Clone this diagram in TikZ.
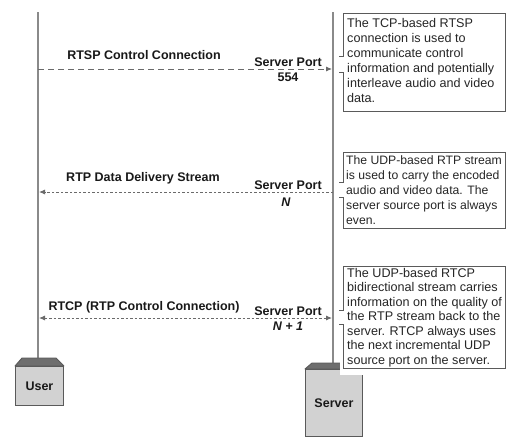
\documentclass[tikz,border=0pt]{standalone}
\usepackage{fontspec}
\setmainfont{Liberation Sans}
\usetikzlibrary{arrows.meta}
\definecolor{life}{HTML}{8A8A8A}
\definecolor{msgc}{HTML}{6A6A6A}
\definecolor{face}{HTML}{D2D2D2}
\definecolor{bevelc}{HTML}{6E6E6E}
\definecolor{edge}{HTML}{5A5A5A}
\tikzset{
  lbl/.style={font=\fontsize{12.5}{14}\selectfont\bfseries, inner sep=0pt, text=black!90},
  note/.style={font=\fontsize{12.6}{15}\selectfont, align=left, anchor=north west, inner sep=0pt, text=black!85},
  lifeline/.style={draw=life, line width=1.6pt},
  msg/.style={draw=msgc, line width=0.9pt},
  dashA/.style={dash pattern=on 6pt off 4pt},
  dotA/.style={dash pattern=on 2.5pt off 2pt},
  tipR/.style={-{Latex[length=6pt,width=5pt]}, shorten >=1pt},
  tipB/.style={{Latex[length=6pt,width=5pt]}-{Latex[length=6pt,width=5pt]}, shorten >=1pt, shorten <=1pt},
  boxface/.style={draw=edge, fill=face, line width=0.9pt, inner sep=0pt, anchor=north west,
                  font=\fontsize{12.5}{14}\selectfont\bfseries, text=black!90},
  bevel/.style={draw=edge, fill=bevelc, line width=0.9pt, line join=round},
  callout/.style={draw=edge, line width=0.9pt}
}
\begin{document}
\begin{tikzpicture}[x=1pt,y=-1pt]
\useasboundingbox (0,0) rectangle (506,437);
\clip (0,0) rectangle (506,437);
\fill[white] (0,0) rectangle (506,437);

% lifelines
\coordinate (utop) at (38,12);
\coordinate (stop) at (333,12);
\node[boxface, minimum width=48pt, minimum height=39pt] (user) at (15,366) {User};
\node[boxface, minimum width=57pt, minimum height=67pt] (server) at (305,369) {Server};
\coordinate (ubev) at (38,358);
\coordinate (sbev) at (333,363);
\draw[lifeline] (utop) -- (ubev);
\draw[lifeline] (stop) -- (sbev);

% user box bevel
\draw[bevel] (user.north west) -- ++(7,-8) -- ++(34,0) -- (user.north east) -- cycle;
\node[boxface, minimum width=48pt, minimum height=39pt] at (15,366) {User};
% server box bevel
\draw[bevel] (server.north west) -- ++(7,-6) -- ++(43,0) -- (server.north east) -- cycle;
\node[boxface, minimum width=57pt, minimum height=67pt] at (305,369) {Server};

% messages
\coordinate (u1) at (38,69);  \coordinate (s1) at (333,69);
\coordinate (u2) at (38,192); \coordinate (s2) at (333,192);
\coordinate (u3) at (38,318); \coordinate (s3) at (333,318);
\draw[msg, dashA, tipR] (u1) -- (s1);
\draw[msg, dotA, tipR] (s2) -- (u2);
\draw[msg, dotA, tipB] (u3) -- (s3);

% labels
\node[lbl] (l1) at (144,55) {RTSP Control Connection};
\node[lbl] (p1) at (288,62) {Server Port};
\node[lbl] (n1) at (288,77) {554};
\node[lbl] (l2) at (143,178) {RTP Data Delivery Stream};
\node[lbl] (p2) at (288,185) {Server Port};
\node[lbl] (n2) at (286,202) {\itshape N};
\node[lbl] (l3) at (144,307) {RTCP (RTP Control Connection)};
\node[lbl] (p3) at (288,311) {Server Port};
\node[lbl] (n3) at (288,326) {\itshape N + 1};

% callout 1
\draw[callout] (339,56) -- (343,56) -- (343,13) -- (505,13) -- (505,111) -- (343,111) -- (343,72) -- (339,72);
\node[note] (t1) at (347,18) {The TCP-based RTSP\\connection is used to\\communicate control\\information and potentially\\interleave audio and video\\data.};
% callout 2
\draw[callout] (339,182) -- (343,182) -- (343,152) -- (505,152) -- (505,228) -- (343,228) -- (343,197) -- (339,197);
\node[note, font=\fontsize{12.2}{15}\selectfont] (t2) at (346,155) {The UDP-based RTP stream\\is used to carry the encoded\\audio and video data. The\\server source port is always\\even.};
% callout 3
\fill[white] (340,262) rectangle (506,375);
\draw[callout] (339,310) -- (343,310) -- (343,266) -- (505,266) -- (505,368) -- (343,368) -- (343,324) -- (339,324);
\node[note, font=\fontsize{12.6}{14.5}\selectfont] (t3) at (347,268) {The UDP-based RTCP\\bidirectional stream carries\\information on the quality of\\the RTP stream back to the\\server. RTCP always uses\\the next incremental UDP\\source port on the server.};
\end{tikzpicture}
\end{document}
